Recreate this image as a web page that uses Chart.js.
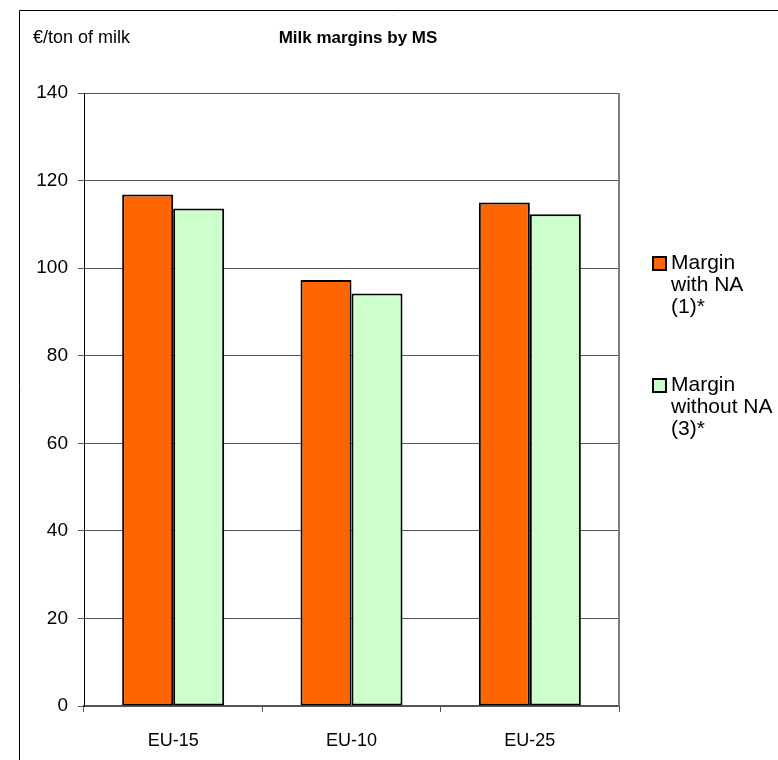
<!DOCTYPE html>
<html>
<head>
<meta charset="utf-8">
<script src="https://cdn.jsdelivr.net/npm/chart.js@4/dist/chart.umd.min.js"></script>
<style>
  html, body { margin: 0; padding: 0; background: #fff; }
  #chart { display: block; }
</style>
</head>
<body>
<canvas id="chart" width="778" height="760"></canvas>
<script>
// Data
const categories = ['EU-15', 'EU-10', 'EU-25'];
const marginWithNA = [116.8, 97.3, 115.0];
const marginWithoutNA = [113.6, 94.2, 112.3];
const seriesLabels = [['Margin', 'with NA', '(1)*'], ['Margin', 'without NA', '(3)*']];
const yTicks = [0, 20, 40, 60, 80, 100, 120, 140];

const FONT = "'Liberation Sans', Arial, sans-serif";

// title, unit label, outer frame, plot frame and legend
const decorations = {
    id: 'decorations',
    afterDraw(chart) {
        const ctx = chart.ctx;
        const area = chart.chartArea;
        ctx.save();

        // outer frame
        ctx.strokeStyle = '#000';
        ctx.lineWidth = 1;
        ctx.beginPath();
        ctx.moveTo(19.5, 760);
        ctx.lineTo(19.5, 10.5);
        ctx.lineTo(778, 10.5);
        ctx.stroke();

        // plot frame right side
        ctx.strokeStyle = '#808080';
        ctx.lineWidth = 2;
        ctx.beginPath();
        ctx.moveTo(area.right, area.top);
        ctx.lineTo(area.right, area.bottom);
        ctx.stroke();

        // texts
        ctx.fillStyle = '#000';
        ctx.textBaseline = 'middle';
        ctx.textAlign = 'left';
        ctx.font = '18px ' + FONT;
        ctx.fillText('€/ton of milk', 33, 38);
        ctx.font = 'bold 17px ' + FONT;
        ctx.textAlign = 'center';
        ctx.fillText('Milk margins by MS', 358, 38);

        // legend
        const tops = [263, 385];
        ctx.textAlign = 'left';
        ctx.font = '21px ' + FONT;
        chart.data.datasets.forEach((ds, i) => {
            const y = tops[i];
            ctx.fillStyle = ds.backgroundColor;
            ctx.fillRect(653, y - 6, 13, 13);
            ctx.strokeStyle = '#000';
            ctx.lineWidth = 2;
            ctx.strokeRect(653, y - 6, 13, 13);
            ctx.fillStyle = '#000';
            seriesLabels[i].forEach((line, j) => {
                ctx.fillText(line, 671, y + j * 22);
            });
        });
        ctx.restore();
    }
};

const ctx = document.getElementById('chart').getContext('2d');
const chart = new Chart(ctx, {
    type: 'bar',
    data: {
        labels: categories,
        datasets: [{
            label: 'Margin with NA (1)*',
            data: marginWithNA,
            backgroundColor: '#ff6600',
            borderColor: '#000',
            borderWidth: 2,
            borderSkipped: false
        }, {
            label: 'Margin without NA (3)*',
            data: marginWithoutNA,
            backgroundColor: '#ccffcc',
            borderColor: '#000',
            borderWidth: 2,
            borderSkipped: false
        }]
    },
    options: {
        responsive: false,
        animation: false,
        devicePixelRatio: 1,
        datasets: {
            bar: { categoryPercentage: 0.572, barPercentage: 1.0 }
        },
        layout: {
            padding: { left: 0, top: 93, right: 159, bottom: 0 }
        },
        plugins: {
            legend: { display: false },
            title: { display: false },
            tooltip: { enabled: false }
        },
        scales: {
            x: {
                afterFit: (scale) => { scale.height = 54; },
                grid: {
                    offset: true,
                    drawOnChartArea: false,
                    drawTicks: true,
                    tickLength: 6,
                    color: '#555'
                },
                border: { color: '#555', width: 2 },
                ticks: {
                    color: '#000',
                    padding: 18,
                    font: { family: FONT, size: 18 }
                }
            },
            y: {
                min: 0,
                max: 140,
                afterFit: (scale) => { scale.width = 84; },
                afterBuildTicks: (scale) => {
                    scale.ticks = yTicks.map(v => ({ value: v }));
                },
                grid: {
                    color: '#555',
                    tickLength: 6
                },
                border: { color: '#000', width: 1 },
                ticks: {
                    color: '#000',
                    padding: 10,
                    font: { family: FONT, size: 19 }
                }
            }
        }
    },
    plugins: [decorations]
});
</script>
</body>
</html>
